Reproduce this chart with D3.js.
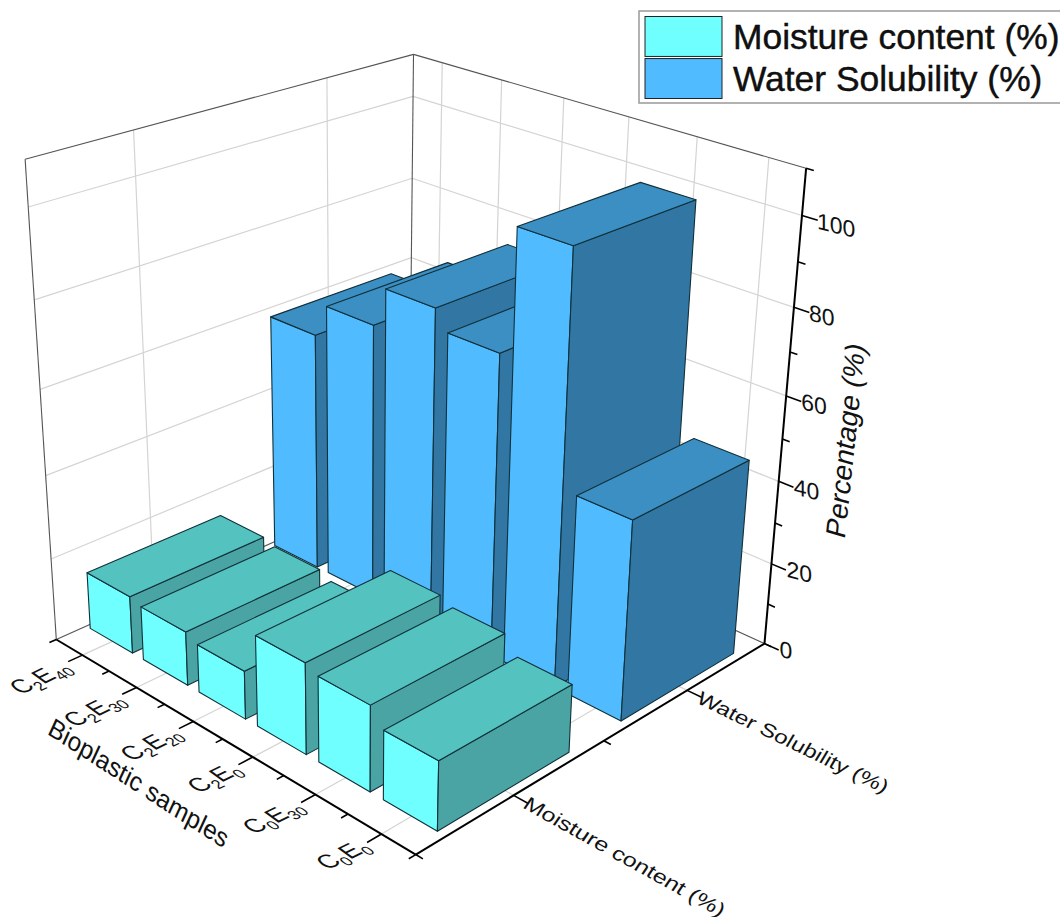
<!DOCTYPE html>
<html>
<head>
<meta charset="utf-8">
<script src="https://cdnjs.cloudflare.com/ajax/libs/d3/7.8.5/d3.min.js"></script>
<style>
    body {margin: 0; background: white;}
    text {font-family: "Liberation Sans", Arial, sans-serif; fill: #111;}
</style>
</head>
<body>
<svg id="chart" width="1060" height="917"></svg>
<script>
const samples = ['C2E40', 'C2E30', 'C2E20', 'C2E0', 'C0E30', 'C0E0'];
const seriesNames = ['Moisture content (%)', 'Water Solubility (%)'];
const moisture = [14, 13, 11.5, 21.5, 20, 16];
const solubility = [58.5, 66.5, 76, 71.5, 100, 47];
const yTickLabels = [0, 20, 40, 60, 80, 100];
const yMinorTicks = [10, 30, 50, 70, 90, 110];

// camera fit: cube corner [u, v, w] -> screen [x, y]
const cameraAnchors = [
    [0, 0, 0, 55, 640], [1, 0, 0, 414, 853], [1, 1, 0, 764, 643], [0, 1, 0, 410, 480],
    [0, 0, 1, 26, 158], [1, 1, 1, 807, 168], [0, 1, 1, 413, 55],
    [1, 1, 100 / 110, 802, 216], [1, 1, 80 / 110, 794, 307], [1, 1, 40 / 110, 779, 482],
    [0, 1, 100 / 110, 412, 97], [0, 1, 60 / 110, 411, 257],
    [1, 0.25, 0, 515, 795], [1, 0.75, 0, 687, 692],
    [1 / 12, 0, 0, 84, 657], [11 / 12, 0, 0, 381, 834]
];

function solve(A, b) {
    const n = b.length;
    const M = A.map((row, i) => [...row, b[i]]);
    for (let c = 0; c < n; c++) {
        let p = c;
        for (let r = c + 1; r < n; r++) if (Math.abs(M[r][c]) > Math.abs(M[p][c])) p = r;
        [M[c], M[p]] = [M[p], M[c]];
        for (let r = 0; r < n; r++) {
            if (r === c) continue;
            const f = M[r][c] / M[c][c];
            for (let k = c; k <= n; k++) M[r][k] -= f * M[c][k];
        }
    }
    return M.map((row, i) => row[n] / row[i]);
}

function fitCamera(anchors) {
    const rows = [], rhs = [];
    anchors.forEach(([u, v, w, x, y]) => {
        rows.push([1, u, v, w, 0, 0, 0, 0, -x * u, -x * v, -x * w]);
        rhs.push(x);
        rows.push([0, 0, 0, 0, 1, u, v, w, -y * u, -y * v, -y * w]);
        rhs.push(y);
    });
    const n = 11;
    const AtA = d3.range(n).map(i => d3.range(n).map(j => d3.sum(rows, r => r[i] * r[j])));
    const Atb = d3.range(n).map(i => d3.sum(rows, (r, k) => r[i] * rhs[k]));
    return solve(AtA, Atb);
}

const cam = fitCamera(cameraAnchors);
function project(u, v, w) {
    const d = 1 + cam[8] * u + cam[9] * v + cam[10] * w;
    return [(cam[0] + cam[1] * u + cam[2] * v + cam[3] * w) / d,
            (cam[4] + cam[5] * u + cam[6] * v + cam[7] * w) / d];
}

const xScale = d3.scaleLinear().domain([0.5, 6.5]).range([0, 1]);
const seriesScale = d3.scaleLinear().domain([0.5, 2.5]).range([0, 1]);
const yScale = d3.scaleLinear().domain([0, 110]).range([0, 1]);

const barWidth = 0.8;
const barDepth = 0.7;
const barShift = -0.024; // bars sit a touch left of their ticks
const line = d3.line();
const svg = d3.select('#chart');

function drawLines(cls, segs, color, width) {
    svg.append('g').attr('class', cls)
        .selectAll('path')
        .data(segs)
        .join('path')
            .attr('d', d => line([project(...d[0]), project(...d[1])]))
            .attr('fill', 'none')
            .attr('stroke', color)
            .attr('stroke-width', width);
}

// grid
const uGrid = samples.map((s, i) => xScale(i + 1));
const vGrid = seriesNames.map((s, i) => seriesScale(i + 1));
const wGrid = yTickLabels.slice(1).map(yScale);
const gridSegs = [];
uGrid.forEach(u => {
    gridSegs.push([[u, 0, 0], [u, 1, 0]]);
    gridSegs.push([[u, 1, 0], [u, 1, 1]]);
});
vGrid.forEach(v => {
    gridSegs.push([[0, v, 0], [1, v, 0]]);
    gridSegs.push([[0, v, 0], [0, v, 1]]);
});
wGrid.forEach(w => {
    gridSegs.push([[0, 0, w], [0, 1, w]]);
    gridSegs.push([[0, 1, w], [1, 1, w]]);
});
drawLines('grid', gridSegs, '#d4d4d4', 1.2);

// wall frame
drawLines('frame', [
    [[0, 0, 0], [0, 0, 1]], [[0, 0, 1], [0, 1, 1]], [[0, 1, 1], [1, 1, 1]],
    [[0, 1, 0], [0, 1, 1]], [[0, 0, 0], [0, 1, 0]], [[0, 1, 0], [1, 1, 0]]
], '#555', 1.1);

// bars, back row first
const colors = [
    {front: '#70ffff', top: '#54c2bf', side: '#49a4a3'},
    {front: '#50bbff', top: '#3c8fc2', side: '#3277a4'}
];
const barData = [];
[solubility, moisture].forEach((values, k) => {
    const s = 1 - k;
    values.forEach((val, i) => {
        const u0 = xScale(i + 1 + barShift - barWidth / 2), u1 = xScale(i + 1 + barShift + barWidth / 2);
        const v0 = seriesScale(s + 1 - barDepth / 2), v1 = seriesScale(s + 1 + barDepth / 2);
        const w = yScale(val);
        barData.push({u0, u1, v0, v1, w, color: colors[s]});
    });
});

const faces = svg.append('g').attr('class', 'bars')
    .selectAll('g')
    .data(barData)
    .join('g');

function face(name, corners) {
    faces.append('path')
        .attr('class', 'bar__' + name)
        .attr('d', d => line(corners(d).map(c => project(...c))) + 'Z')
        .attr('fill', d => d.color[name])
        .attr('stroke', '#10303a')
        .attr('stroke-width', 1.1)
        .attr('stroke-linejoin', 'round');
}
face('front', d => [[d.u0, d.v0, 0], [d.u1, d.v0, 0], [d.u1, d.v0, d.w], [d.u0, d.v0, d.w]]);
face('side', d => [[d.u1, d.v0, 0], [d.u1, d.v1, 0], [d.u1, d.v1, d.w], [d.u1, d.v0, d.w]]);
face('top', d => [[d.u0, d.v0, d.w], [d.u1, d.v0, d.w], [d.u1, d.v1, d.w], [d.u0, d.v1, d.w]]);

// axes
drawLines('axis', [
    [[0, 0, 0], [1, 0, 0]], [[1, 0, 0], [1, 1, 0]], [[1, 1, 0], [1, 1, 1]]
], '#000', 2);

const tickSegs = [];
d3.range(0.5, 7, 0.5).forEach(t => {
    const major = Number.isInteger(t) && t >= 1 && t <= 6;
    tickSegs.push([[xScale(t), 0, 0], [xScale(t), major ? -0.035 : -0.017, 0]]);
});
d3.range(0.5, 3, 0.5).forEach(t => {
    const major = Number.isInteger(t);
    tickSegs.push([[1, seriesScale(t), 0], [major ? 1.035 : 1.017, seriesScale(t), 0]]);
});
yTickLabels.forEach(t => tickSegs.push([[1, 1, yScale(t)], [1.035, 1, yScale(t)]]));
yMinorTicks.forEach(t => tickSegs.push([[1, 1, yScale(t)], [1.017, 1, yScale(t)]]));
drawLines('ticks', tickSegs, '#000', 1.6);

// y tick labels
svg.append('g').selectAll('text')
    .data(yTickLabels)
    .join('text')
        .attr('text-anchor', 'start')
        .attr('font-size', 23)
        .attr('transform', d => {
            const p = project(1, 1, yScale(d));
            return `translate(${p[0] + 15}, ${p[1] + 13}) skewY(14)`;
        })
        .text(d => d);

svg.append('text')
    .attr('text-anchor', 'middle')
    .attr('font-size', 28)
    .attr('transform', 'translate(855, 443) rotate(-84) skewX(-10)')
    .text('Percentage (%)');

// sample labels with subscripts
const sampleLabels = svg.append('g').selectAll('text')
    .data(samples)
    .join('text')
        .attr('text-anchor', 'end')
        .attr('font-size', 23)
        .attr('transform', (d, i) => {
            const p = project(xScale(i + 1), 0, 0);
            return `translate(${p[0] - 10}, ${p[1] + 15}) rotate(-26) skewX(28)`;
        });
sampleLabels.each(function(d) {
    const t = d3.select(this);
    t.append('tspan').text(d[0]);
    t.append('tspan').attr('dy', 5).attr('font-size', 15).text(d[1]);
    t.append('tspan').attr('dy', -5).text(d[2]);
    t.append('tspan').attr('dy', 5).attr('font-size', 15).text(d.slice(3));
});

svg.append('text')
    .attr('text-anchor', 'middle')
    .attr('font-size', 25.5)
    .attr('transform', 'translate(135, 791) rotate(33) skewX(8)')
    .text('Bioplastic samples');

// series labels
const seriesFontSizes = [24.6, 24];
svg.append('g').selectAll('text')
    .data(seriesNames)
    .join('text')
        .attr('text-anchor', 'start')
        .attr('font-size', (d, i) => seriesFontSizes[i])
        .attr('transform', (d, i) => {
            const v = seriesScale(i + 1);
            const p = project(1, v, 0), q = project(1.1, v, 0);
            const angle = Math.atan2(q[1] - p[1], q[0] - p[0]) * 180 / Math.PI;
            return `translate(${p[0] + 8}, ${p[1] + 12}) rotate(${angle}) skewX(-5) scale(1, 0.8)`;
        })
        .text(d => d);

// legend
const legend = svg.append('g').attr('class', 'legend');
legend.append('rect')
    .attr('x', 639).attr('y', 11).attr('width', 430).attr('height', 92)
    .attr('fill', 'white').attr('stroke', '#999').attr('stroke-width', 1.5);
const legendRow = d3.scaleBand().domain(seriesNames).range([16.5, 98.5]).paddingInner(0.05);
legend.selectAll('rect.swatch')
    .data(seriesNames)
    .join('rect')
        .attr('class', 'swatch')
        .attr('x', 645).attr('width', 77)
        .attr('y', d => legendRow(d))
        .attr('height', legendRow.bandwidth())
        .attr('fill', (d, i) => colors[i].front)
        .attr('stroke', '#222').attr('stroke-width', 1);
legend.selectAll('text')
    .data(seriesNames)
    .join('text')
        .attr('x', 733)
        .attr('y', d => legendRow(d) + legendRow.bandwidth() / 2 + 12.5)
        .attr('font-size', 35.4)
        .attr('fill', '#000')
        .attr('stroke', '#000')
        .attr('stroke-width', 0.4)
        .text(d => d);
</script>
</body>
</html>
